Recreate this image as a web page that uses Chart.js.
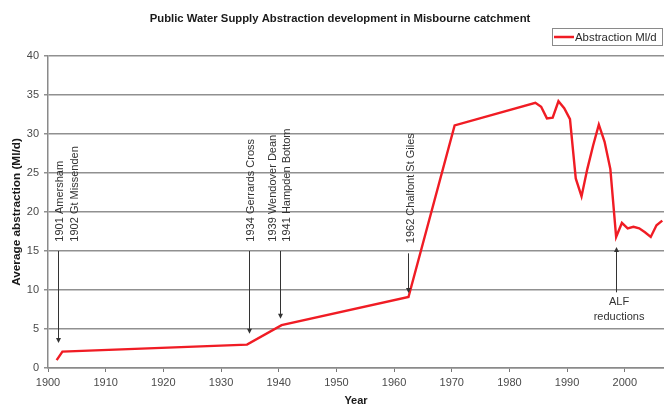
<!DOCTYPE html>
<html>
<head>
<meta charset="utf-8">
<script src="https://cdn.jsdelivr.net/npm/chart.js@4.4.1/dist/chart.umd.min.js"></script>
<style>
  html, body { margin: 0; padding: 0; background: #ffffff; }
  #wrap { width: 664px; height: 408px; position: relative; }
</style>
</head>
<body>
<div id="wrap"><canvas id="chart"></canvas></div>
<script>
// Public water supply abstraction in the Misbourne catchment (Ml/d, annual average)
const years = [1901, 1902, 1934, 1940, 1962, 1970, 1984, 1985, 1986, 1987, 1988, 1989, 1990,
               1991, 1992, 1993, 1994, 1995, 1996, 1997, 1998, 1999, 2000, 2001, 2002, 2003,
               2004, 2005, 2006];
const abstraction = [1.0, 2.1, 3.0, 5.5, 9.1, 31.1, 34.0, 33.5, 32.0, 32.1, 34.2, 33.3, 31.9,
                     24.3, 22.0, 25.5, 28.5, 31.2, 29.0, 25.5, 16.8, 18.6, 17.9, 18.1, 17.9, 17.4,
                     16.8, 18.3, 18.9];
const yearTicks = [1900, 1910, 1920, 1930, 1940, 1950, 1960, 1970, 1980, 1990, 2000];
const valueTicks = [0, 5, 10, 15, 20, 25, 30, 35, 40];

// Source commissioning and licence-reduction milestones
const milestones = [
  { labels: [{ text: '1901 Amersham', year: 1902.0 }, { text: '1902 Gt Missenden', year: 1904.6 }],
    base: 16.2, arrowYear: 1901.8, from: 15, to: 3.2 },
  { labels: [{ text: '1934 Gerrards Cross', year: 1935.2 }],
    base: 16.2, arrowYear: 1934.8, from: 15, to: 4.4 },
  { labels: [{ text: '1939 Wendover Dean', year: 1939.0 }, { text: '1941 Hampden Bottom', year: 1941.5 }],
    base: 16.2, arrowYear: 1940.3, from: 15, to: 6.3 },
  { labels: [{ text: '1962 Chalfont St Giles', year: 1962.9 }],
    base: 16.0, arrowYear: 1962.4, from: 14.7, to: 9.6 }
];
const alfNote = { lines: ['ALF', 'reductions'], year: 1999.0, at: [8.5, 6.6],
                  arrowYear: 1998.4, from: 9.7, to: 15.5 };

const MID_YEAR = 0.5; // annual averages sit at mid-year
const points = years.map((yr, i) => ({ x: yr + MID_YEAR, y: abstraction[i] }));

const FONT = '"Liberation Sans", Arial, sans-serif';

const notesPlugin = {
  id: 'notes',
  afterDatasetsDraw(chart) {
    const { ctx, scales: { x, y } } = chart;
    ctx.save();
    ctx.fillStyle = '#333333';
    ctx.strokeStyle = '#333333';
    ctx.lineWidth = 1;
    const arrow = (yr, from, to) => {
      const ax = Math.round(x.getPixelForValue(yr)) + 0.5;
      const y0 = y.getPixelForValue(from), y1 = y.getPixelForValue(to);
      const dir = Math.sign(y1 - y0);
      ctx.beginPath(); ctx.moveTo(ax, y0); ctx.lineTo(ax, y1 - dir * 3); ctx.stroke();
      ctx.beginPath();
      ctx.moveTo(ax, y1); ctx.lineTo(ax - 2.5, y1 - dir * 5); ctx.lineTo(ax + 2.5, y1 - dir * 5);
      ctx.closePath(); ctx.fill();
    };
    ctx.font = '11px ' + FONT;
    ctx.textAlign = 'left';
    ctx.textBaseline = 'middle';
    for (const m of milestones) {
      arrow(m.arrowYear, m.from, m.to);
      for (const l of m.labels) {
        ctx.save();
        ctx.translate(x.getPixelForValue(l.year), y.getPixelForValue(m.base));
        ctx.rotate(-Math.PI / 2);
        ctx.fillText(l.text, 0, 0);
        ctx.restore();
      }
    }
    arrow(alfNote.arrowYear, alfNote.from, alfNote.to);
    ctx.textAlign = 'center';
    alfNote.lines.forEach((t, i) => {
      ctx.fillText(t, x.getPixelForValue(alfNote.year), y.getPixelForValue(alfNote.at[i]));
    });
    ctx.restore();
  },
  afterDraw(chart) {
    const { ctx } = chart;
    const ds = chart.data.datasets[0];
    ctx.save();
    // chart title
    ctx.fillStyle = '#1a1a1a';
    ctx.font = 'bold 11.3px ' + FONT;
    ctx.textAlign = 'center';
    ctx.textBaseline = 'middle';
    ctx.fillText('Public Water Supply Abstraction development in Misbourne catchment', 340, 19);
    // boxed legend
    ctx.strokeStyle = '#8a8a8a';
    ctx.lineWidth = 1;
    ctx.strokeRect(552.5, 28.5, 110, 17);
    ctx.strokeStyle = ds.borderColor;
    ctx.lineWidth = 2.5;
    ctx.beginPath(); ctx.moveTo(554, 37); ctx.lineTo(574, 37); ctx.stroke();
    ctx.fillStyle = '#2a2a2a';
    ctx.font = '11.4px ' + FONT;
    ctx.textAlign = 'left';
    ctx.fillText(ds.label, 575, 37.5);
    ctx.restore();
  }
};

new Chart(document.getElementById('chart'), {
  type: 'line',
  data: {
    datasets: [{
      label: 'Abstraction Ml/d',
      data: points,
      borderColor: '#f01c24',
      borderWidth: 2.4,
      pointRadius: 0,
      tension: 0,
      fill: false
    }]
  },
  options: {
    responsive: true,
    maintainAspectRatio: false,
    animation: false,
    devicePixelRatio: 1,
    layout: { padding: { top: 56, right: 0, bottom: 0, left: 0 } },
    plugins: {
      legend: { display: false },
      title: { display: false },
      tooltip: { enabled: false }
    },
    scales: {
      x: {
        type: 'linear',
        min: 1900,
        max: 2006.8,
        afterFit: s => { s.height = 40; },
        afterBuildTicks: s => { s.ticks = yearTicks.map(v => ({ value: v })); },
        ticks: {
          callback: v => String(v),
          color: '#4a4a4a',
          font: { family: FONT, size: 11 },
          padding: 4,
          maxRotation: 0
        },
        grid: { drawOnChartArea: false, drawTicks: true, tickLength: 4, color: '#777777' },
        border: { color: '#8a8a8a', width: 1.5 },
        title: {
          display: true, text: 'Year', color: '#1a1a1a',
          font: { family: FONT, size: 11, weight: 'bold' }, padding: { top: 0, bottom: 0 }
        }
      },
      y: {
        min: 0,
        max: 40,
        afterFit: s => { s.width = 48; },
        afterBuildTicks: s => { s.ticks = valueTicks.map(v => ({ value: v })); },
        ticks: {
          callback: v => String(v),
          color: '#4a4a4a',
          font: { family: FONT, size: 11 },
          padding: 5
        },
        grid: { color: '#909090', lineWidth: 1.5, tickLength: 4 },
        border: { color: '#8a8a8a', width: 1.5 },
        title: {
          display: true, text: 'Average abstraction (Ml/d)', color: '#1a1a1a',
          font: { family: FONT, size: 11.8, weight: 'bold' }, padding: { top: 10, bottom: 0 }
        }
      }
    }
  },
  plugins: [notesPlugin]
});
</script>
</body>
</html>
